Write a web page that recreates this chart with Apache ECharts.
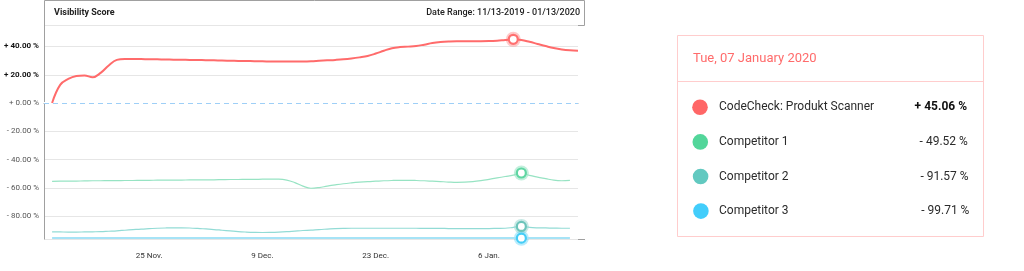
<!DOCTYPE html>
<html>
<head>
<meta charset="utf-8">
<script src="https://cdn.jsdelivr.net/npm/echarts@6/dist/echarts.min.js"></script>
<style>
html,body{margin:0;padding:0;background:#fff;}
#c{width:1024px;height:271px;}
</style>
</head>
<body>
<div id="c"></div>
<script>
// ---- data ----
const categories = [
 'Nov 12','Nov 13','Nov 14','Nov 15','Nov 16','Nov 17','Nov 18','Nov 19','Nov 20','Nov 21','Nov 22','Nov 23','Nov 24','Nov 25','Nov 26','Nov 27','Nov 28','Nov 29','Nov 30',
 'Dec 1','Dec 2','Dec 3','Dec 4','Dec 5','Dec 6','Dec 7','Dec 8','Dec 9','Dec 10','Dec 11','Dec 12','Dec 13','Dec 14','Dec 15','Dec 16','Dec 17','Dec 18','Dec 19','Dec 20','Dec 21','Dec 22','Dec 23','Dec 24','Dec 25','Dec 26','Dec 27','Dec 28','Dec 29','Dec 30','Dec 31',
 'Jan 1','Jan 2','Jan 3','Jan 4','Jan 5','Jan 6','Jan 7','Jan 8','Jan 9','Jan 10','Jan 11','Jan 12','Jan 13','Jan 14','Jan 15','Jan 16','Jan 17'
];
const xTickCats = ['Nov 25','Dec 9','Dec 23','Jan 6'];
const xTickLabels = ['25 Nov.','9 Dec.','23 Dec.','6 Jan.'];
const yTicks = [40, 20, 0, -20, -40, -60, -80];

const seriesNames = ['CodeCheck: Produkt Scanner','Competitor 1','Competitor 2','Competitor 3'];
const codeCheck = [null,0,12.8,17.0,19.1,19.5,18.2,21.3,26.6,30.5,31.2,31.2,31.1,31.0,30.9,30.8,30.7,30.6,30.5,30.4,30.3,30.2,30.0,29.9,29.8,29.7,29.6,29.5,29.4,29.3,29.3,29.3,29.4,29.6,29.9,30.2,30.5,30.9,31.5,32.3,33.3,35.0,37.0,38.8,39.6,39.9,40.3,41.3,42.4,43.1,43.5,43.7,43.7,43.7,43.7,43.8,44.1,44.6,45.06,44.6,43.3,41.8,40.3,38.9,37.9,37.3,37.0];
const competitor1 = [null,-55.4,-55.3,-55.3,-55.2,-55.1,-55.0,-55.0,-54.9,-54.9,-54.8,-54.8,-54.7,-54.7,-54.6,-54.6,-54.5,-54.5,-54.4,-54.4,-54.3,-54.3,-54.2,-54.1,-54.1,-54.0,-54.0,-53.9,-53.9,-53.9,-54.5,-56.3,-58.8,-60.3,-59.8,-58.8,-57.9,-57.1,-56.5,-56.0,-55.6,-55.3,-55.0,-54.8,-54.7,-54.7,-54.8,-55.0,-55.3,-55.6,-55.9,-56.1,-56.0,-55.6,-54.9,-54.0,-53.0,-52.0,-51.0,-49.52,-51.2,-52.4,-53.5,-54.6,-55.0,-54.7,null];
const competitor2 = [null,-91.1,-91.2,-91.3,-91.3,-91.2,-91.1,-91.0,-90.7,-90.4,-90.0,-89.6,-89.2,-88.9,-88.6,-88.4,-88.3,-88.3,-88.4,-88.7,-89.1,-89.5,-90.0,-90.5,-91.0,-91.3,-91.5,-91.6,-91.5,-91.3,-91.0,-90.6,-90.2,-89.9,-89.5,-89.2,-88.9,-88.7,-88.6,-88.6,-88.6,-88.6,-88.6,-88.6,-88.6,-88.6,-88.6,-88.7,-88.7,-88.7,-88.8,-88.8,-88.8,-88.8,-88.8,-88.8,-88.7,-88.6,-88.0,-87.3,-88.0,-88.3,-88.4,-88.5,-88.6,-88.6,null];
const competitor3 = [null,-95.5,-95.5,-95.5,-95.5,-95.5,-95.5,-95.5,-95.5,-95.5,-95.5,-95.5,-95.5,-95.5,-95.5,-95.5,-95.5,-95.5,-95.5,-95.5,-95.5,-95.5,-95.5,-95.5,-95.5,-95.5,-95.5,-95.5,-95.5,-95.5,-95.5,-95.5,-95.5,-95.5,-95.5,-95.5,-95.5,-95.5,-95.5,-95.5,-95.5,-95.5,-95.5,-95.5,-95.5,-95.5,-95.5,-95.5,-95.5,-95.5,-95.5,-95.5,-95.5,-95.5,-95.5,-95.5,-95.5,-95.5,-95.5,-95.6,-95.5,-95.5,-95.5,-95.5,-95.5,-95.5,null];
const markerIndex = [58, 59, 59, 59];

const tooltipDate = 'Tue, 07 January 2020';
const tooltipValues = ['+ 45.06 %','- 49.52 %','- 91.57 %','- 99.71 %'];
const chartTitle = 'Visibility Score';
const dateRange = 'Date Range: 11/13-2019 - 01/13/2020';

// ---- styles ----
const dotColors = ['#ff6666','#52d69a','#62c9c0','#42cdfb'];
const ringColors = ['#ff7070','#5fd6a2','#6cc4ba','#45cdf7'];
const haloColors = ['rgba(255,112,112,0.38)','rgba(95,214,162,0.38)','rgba(108,196,186,0.38)','rgba(69,205,247,0.38)'];
const lineColors = ['#ff6b6b','#97e3c3','#92dbd5','#a6e3f6'];
const lineWidths = [2, 1.2, 1.2, 2];
const FONT = 'Roboto';

const allSeries = [codeCheck, competitor1, competitor2, competitor3];

function fmtPct(v){
  const s = Math.abs(v).toFixed(2);
  return (v < 0 ? '- ' : '+ ') + s + ' %';
}

const series = allSeries.map((vals, k) => {
  const mi = markerIndex[k];
  const data = vals.map((v, i) => i === mi ? {
    value: v, symbol: 'circle', symbolSize: 9,
    itemStyle: {color: '#fff', borderColor: ringColors[k], borderWidth: 2.2}
  } : v);
  const s = {
    type: 'line', name: seriesNames[k], data: data,
    smooth: 0.4, symbol: 'none', showAllSymbol: true, connectNulls: false,
    lineStyle: {color: lineColors[k], width: lineWidths[k]},
    itemStyle: {color: lineColors[k]},
    z: 10 - k, animation: false, silent: true,
    markPoint: {
      silent: true, animation: false, symbol: 'circle', symbolSize: 15, z: 1,
      label: {show: false},
      itemStyle: {color: haloColors[k]},
      data: [{coord: [mi, vals[mi]]}]
    }
  };
  if (k === 0) {
    s.markLine = {
      silent: true, symbol: 'none', label: {show: false}, animation: false, z: 3,
      lineStyle: {color: '#9ecff7', type: [5, 4], width: 1},
      data: [{yAxis: 0}]
    };
  }
  if (k === 3) {
    s.markLine = {
      silent: true, symbol: 'none', label: {show: false}, animation: false, z: 1,
      lineStyle: {color: '#ffffff', type: 'solid', width: 2},
      data: [{yAxis: 0}]
    };
  }
  return s;
});

// tooltip-like legend panel
const panel = [];
panel.push({type: 'rect', shape: {x: 677.5, y: 35.5, width: 306, height: 201},
  style: {fill: '#fff', stroke: '#ffcdcd', lineWidth: 1}});
panel.push({type: 'line', shape: {x1: 677.5, y1: 81.5, x2: 983.5, y2: 81.5},
  style: {stroke: '#ffcdcd', lineWidth: 1}});
panel.push({type: 'text', x: 693, y: 59,
  style: {text: tooltipDate, fill: '#ff6b6b', font: '13px ' + FONT, textVerticalAlign: 'middle', verticalAlign: 'middle'}});
seriesNames.forEach((n, i) => {
  const y = 107.3 + i * 34.6;
  panel.push({type: 'circle', shape: {cx: 700 + i * 0.3, cy: y, r: 7.8}, style: {fill: dotColors[i]}});
  panel.push({type: 'text', x: 719, y: y,
    style: {text: n, fill: '#2b2b2b', font: '12px ' + FONT, verticalAlign: 'middle', textVerticalAlign: 'middle'}});
  panel.push({type: 'text', x: 967 + (i === 0 ? 0 : i * 0.8), y: y,
    style: {text: tooltipValues[i], fill: i === 0 ? '#111' : '#2b2b2b',
      font: (i === 0 ? 'bold ' : '') + '12px ' + FONT, align: 'right', textAlign: 'right',
      verticalAlign: 'middle', textVerticalAlign: 'middle'}});
});

// header box
const header = [
  {type: 'rect', shape: {x: 44.5, y: 0.5, width: 540, height: 25},
    style: {fill: 'none', stroke: '#a0a0a0', lineWidth: 1}},
  {type: 'text', x: 54, y: 13,
    style: {text: chartTitle, fill: '#222', font: 'bold 9px ' + FONT, verticalAlign: 'middle', textVerticalAlign: 'middle'}},
  {type: 'text', x: 580, y: 13,
    style: {text: dateRange, fill: '#222', font: '500 9px ' + FONT, align: 'right', textAlign: 'right', verticalAlign: 'middle', textVerticalAlign: 'middle'}},
  {type: 'line', shape: {x1: 578, y1: 239.5, x2: 585, y2: 239.5}, style: {stroke: '#a0a0a0', lineWidth: 1}}
];

const chart = echarts.init(document.getElementById('c'), null, {renderer: 'canvas'});
chart.setOption({
  animation: false,
  backgroundColor: '#fff',
  textStyle: {fontFamily: FONT},
  grid: {left: 44, right: 446, top: 25, bottom: 32, containLabel: false},
  xAxis: {
    type: 'category', data: categories, boundaryGap: false,
    axisLine: {show: true, lineStyle: {color: '#a0a0a0', width: 1}},
    axisTick: {show: false},
    splitLine: {show: false},
    axisLabel: {
      interval: (idx, val) => xTickCats.indexOf(val) >= 0,
      formatter: (val) => { const j = xTickCats.indexOf(val); return j >= 0 ? xTickLabels[j] : ''; },
      color: '#333', fontSize: 8, fontFamily: FONT, margin: 13
    }
  },
  yAxis: {
    type: 'value', min: -96.2, max: 55.2, splitNumber: 8, minInterval: 20, maxInterval: 20,
    axisLine: {show: true, lineStyle: {color: '#a0a0a0', width: 1}},
    axisTick: {show: false},
    splitLine: {show: true, lineStyle: {color: '#e6e6e6', width: 1}},
    axisLabel: {
      showMinLabel: false, showMaxLabel: false, margin: 5,
      formatter: (v) => {
        if (yTicks.indexOf(Math.round(v * 100) / 100) < 0) return '';
        return v > 0 ? '{p|' + fmtPct(v) + '}' : '{n|' + fmtPct(v) + '}';
      },
      rich: {
        p: {fontSize: 8, fontWeight: 'bold', color: '#111', fontFamily: FONT},
        n: {fontSize: 8, color: '#555', fontFamily: FONT}
      }
    }
  },
  series: series,
  graphic: header.concat(panel)
});
</script>
</body>
</html>
